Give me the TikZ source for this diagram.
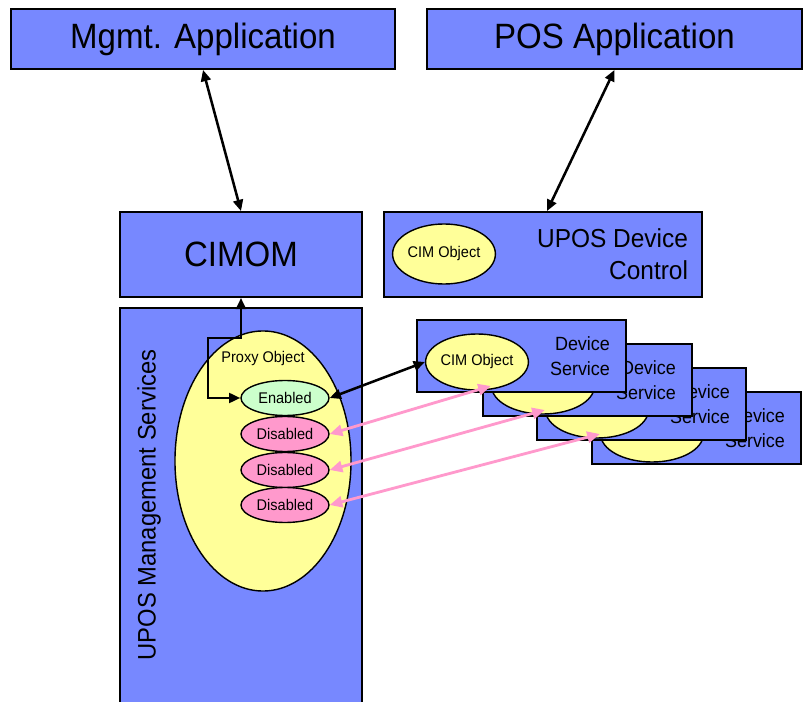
\documentclass[tikz,border=0pt]{standalone}
\usepackage{fontspec}
\setmainfont{Liberation Sans}[FakeStretch=0.94]
\usepackage{tikz}
\usetikzlibrary{arrows.meta, shapes.geometric}
\definecolor{boxblue}{HTML}{7788FF}
\definecolor{objyellow}{HTML}{FFFF99}
\definecolor{okgreen}{HTML}{CCFFCC}
\definecolor{offpink}{HTML}{FF99CC}

\begin{document}
\begin{tikzpicture}[x=0.025cm, y=-0.025cm,
    bluebox/.style={draw, line width=1.3pt, fill=boxblue, inner sep=0pt},
    bigtext/.style={font=\fontsize{25}{30}\selectfont},
    objoval/.style={draw, line width=1pt, ellipse, fill=objyellow, inner sep=0pt, font=\fontsize{11}{13}\selectfont},
    stateoval/.style={draw, line width=1pt, ellipse, inner sep=0pt, minimum width=2.2cm, minimum height=0.875cm, font=\fontsize{11}{13}\selectfont},
    devbox/.style={bluebox, minimum width=5.225cm, minimum height=1.8cm},
    devtext/.style={anchor=east, align=right, xshift=-0.3cm, font=\fontsize{13.6}{17.8}\selectfont},
    link/.style={<->, >={Triangle[length=8pt,width=7pt]}, line width=1.8pt},
    pinklink/.style={<->, >={Triangle[length=9pt,width=8pt]}, line width=2pt, draw=offpink}]
  \useasboundingbox (0,0) rectangle (805,702);
  \fill[white] (0,0) rectangle (805,702);

  % applications
  \node[bluebox, bigtext, minimum width=9.6cm, minimum height=1.5cm] (mgmt) at (203,39) {Mgmt. Application};
  \node[bluebox, bigtext, minimum width=9.375cm, minimum height=1.5cm] (pos) at (614.5,39) {POS Application};

  % middle row
  \node[bluebox, bigtext, minimum width=6.05cm, minimum height=2.125cm] (cimom) at (241,254.5) {CIMOM};
  \node[bluebox, minimum width=7.95cm, minimum height=2.125cm] (devctl) at (543,254.5) {};
  \node[devtext, xshift=0.05cm, font=\fontsize{18.5}{22.8}\selectfont] at (devctl.east) {UPOS Device\\Control};
  \node[objoval, minimum width=2.5cm, minimum height=1.5cm] (cimctl) at (444,254) {CIM Object};

  % management services
  \node[bluebox, minimum width=6.05cm, minimum height=10.8cm] (mgmtsvc) at (241,524) {};
  \node[rotate=90, font=\fontsize{18}{22}\selectfont] (svclabel) at (149,505) {UPOS Management Services};
  \node[objoval, minimum width=4.4cm, minimum height=6.5cm] (proxy) at (263,461) {};
  \node[font=\fontsize{11}{13}\selectfont] (proxylabel) at (263,359) {Proxy Object};
  \node[stateoval, fill=okgreen] (enabled) at (285,398) {Enabled};
  \node[stateoval, fill=offpink] (dis1) at (285,434) {Disabled};
  \node[stateoval, fill=offpink] (dis2) at (285,470) {Disabled};
  \node[stateoval, fill=offpink] (dis3) at (285,505) {Disabled};

  % device services, back to front
  \node[devbox] (dev4) at (696.5,428) {};
  \node[objoval, minimum width=2.5cm, minimum height=1.4cm] (cim4) at (652,434) {CIM Object};
  \node[devtext] at (dev4.east) {Device\\Service};
  \node[devbox] (dev3) at (641.5,404) {};
  \node[objoval, minimum width=2.5cm, minimum height=1.4cm] (cim3) at (597,410) {CIM Object};
  \node[devtext] at (dev3.east) {Device\\Service};
  \node[devbox] (dev2) at (587.5,380) {};
  \node[objoval, minimum width=2.5cm, minimum height=1.4cm] (cim2) at (543,386) {CIM Object};
  \node[devtext] at (dev2.east) {Device\\Service};
  \node[devbox] (dev1) at (521.5,356) {};
  \node[objoval, minimum width=2.5cm, minimum height=1.4cm] (cim1) at (477,362) {CIM Object};
  \node[devtext] at (dev1.east) {Device\\Service};

  % connectors
  \coordinate (bend) at (208,338);
  \draw[link] (mgmt.south) -- (cimom.north);
  \draw[link] (pos.south) -- ([xshift=0.1cm]devctl.north);
  \draw[link] (cimom.south) |- (bend) |- (enabled.west);
  \draw[link] (enabled.east) -- (cim1.west);
  \draw[pinklink] (dis1.east) -- (cim2.west);
  \draw[pinklink] (dis2.east) -- (cim3.west);
  \draw[pinklink] (dis3.east) -- (cim4.west);
\end{tikzpicture}
\end{document}
